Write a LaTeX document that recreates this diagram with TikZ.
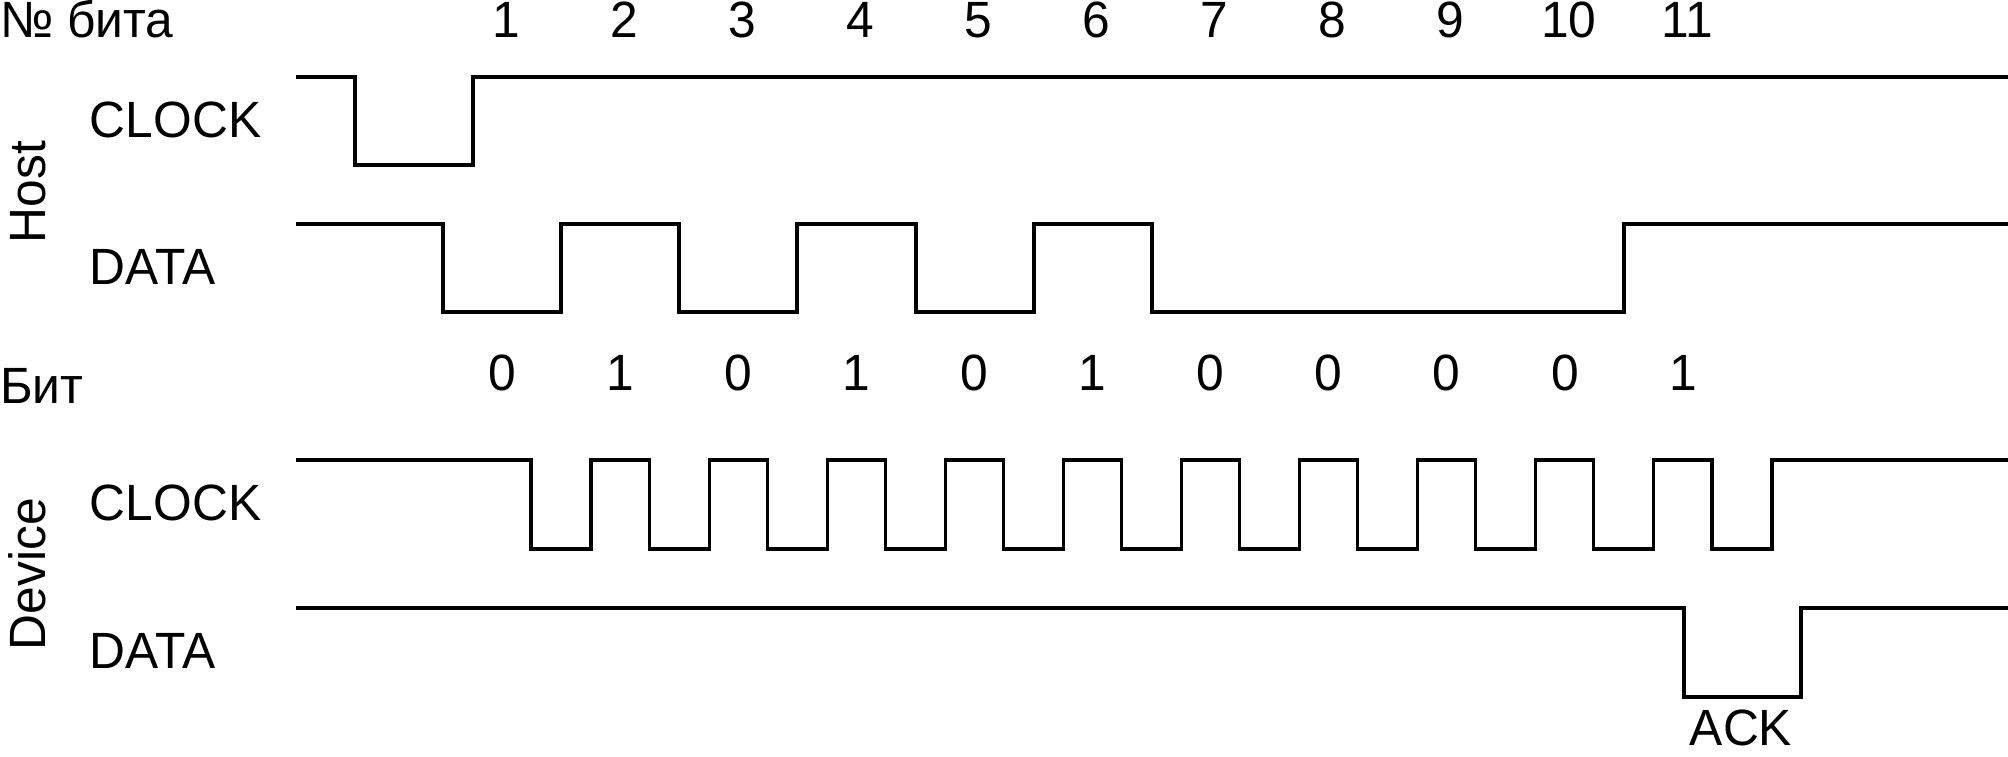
\documentclass[tikz,border=0pt]{standalone}
\usepackage{fontspec}
\setmainfont{Liberation Sans}[FakeStretch=0.975]
\begin{document}
\begin{tikzpicture}[x=0.01cm,y=-0.01cm,
  lbl/.style={inner sep=0pt,outer sep=0pt,font=\fontsize{14.5}{17}\selectfont},
  wave/.style={line width=0.9pt,line join=miter,black}]
\useasboundingbox (0,0) rectangle (2008,756);
% labels
\node[lbl,anchor=base west] (nobit) at (0,37) {№ бита};
\node[lbl,anchor=base west] (bit) at (0,403) {Бит};
\node[lbl,anchor=base west] (hclk) at (90,137) {CLOCK};
\node[lbl,anchor=base west] (hdat) at (90,284) {DATA};
\node[lbl,anchor=base west] (dclk) at (90,520) {CLOCK};
\node[lbl,anchor=base west] (ddat) at (90,668) {DATA};
\node[lbl,anchor=base west,rotate=90] (host) at (45,243) {Host};
\node[lbl,anchor=base west,rotate=90] (dev) at (45,650) {Device};
\node[lbl,anchor=base] (ack) at (1741,745) {ACK};
\foreach \k in {1,...,11}
  \node[lbl,anchor=base] (n\k) at ({506+118.1*(\k-1)},37) {\k};
\foreach \k/\v in {0/0,1/1,2/0,3/1,4/0,5/1,6/0,7/0,8/0,9/0,10/1}
  \node[lbl,anchor=base] (b\k) at ({502+118.1*\k},390) {\v};
% Host CLOCK
\draw[wave] (296,77) -- (355,77) -- (355,165) -- (473,165) -- (473,77) -- (2008,77);
% Host DATA
\draw[wave] (296,224) -- (443,224) -- (443,312) -- (561,312) -- (561,224)
  -- (679,224) -- (679,312) -- (797,312) -- (797,224) -- (916,224) -- (916,312)
  -- (1034,312) -- (1034,224) -- (1152,224) -- (1152,312) -- (1624,312)
  -- (1624,224) -- (2008,224);
% Device CLOCK
\draw[wave] (296,460) foreach \k in {0,...,10} {
  -- ({531+118.1*\k},460) -- ({531+118.1*\k},549) -- ({591+118.1*\k},549) -- ({591+118.1*\k},460)
  } -- (2008,460);
% Device DATA
\draw[wave] (296,608) -- (1684,608) -- (1684,697) -- (1801,697) -- (1801,608) -- (2008,608);
\end{tikzpicture}
\end{document}
